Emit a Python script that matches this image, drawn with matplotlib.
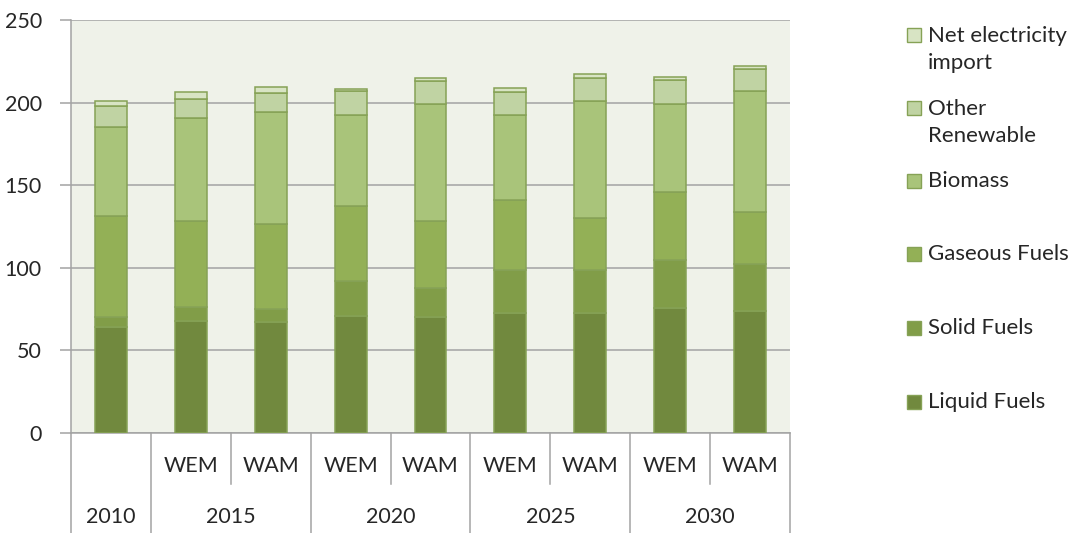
import matplotlib
matplotlib.use("Agg")
import matplotlib.pyplot as plt
import matplotlib.patches as mpatches
from matplotlib.transforms import blended_transform_factory
import numpy as np

plt.rcParams['font.family'] = ['Lato', 'DejaVu Sans']

# Scenario columns: base year, then WEM / WAM projections
scenarios = ["", "WEM", "WAM", "WEM", "WAM", "WEM", "WAM", "WEM", "WAM"]
years = ["2010", "2015", "2020", "2025", "2030"]

# Primary energy by fuel (stacked bottom to top)
liquid_fuels = [64.3, 68.0, 67.2, 70.8, 70.4, 72.4, 72.4, 75.5, 74.0]
solid_fuels = [5.7, 8.1, 7.7, 21.2, 17.6, 26.1, 26.1, 29.0, 28.3]
gaseous_fuels = [61.4, 52.2, 51.4, 45.4, 40.3, 42.5, 31.5, 41.2, 31.3]
biomass = [53.8, 62.2, 67.8, 55.1, 70.9, 51.5, 71.0, 53.6, 73.2]
other_renewable = [12.5, 11.7, 11.9, 14.5, 14.1, 14.1, 14.1, 14.2, 13.8]
net_electricity_import = [3.3, 4.0, 3.3, 1.2, 1.8, 2.4, 2.2, 2.2, 1.8]

series = [liquid_fuels, solid_fuels, gaseous_fuels, biomass,
          other_renewable, net_electricity_import]
labels = ["Liquid Fuels", "Solid Fuels", "Gaseous Fuels", "Biomass",
          "Other\nRenewable", "Net electricity\nimport"]
colors = ["#71893e", "#819d48", "#93b056", "#a9c47a", "#c0d3a3", "#d8e4c4"]
edge = "#86a256"

W, H = 1081, 533
fig = plt.figure(figsize=(W / 100, H / 100), dpi=100)
ax = fig.add_axes([71 / W, (H - 433) / H, (790 - 71) / W, 413 / H])
ax.set_facecolor("#eff2e9")

x = np.arange(len(scenarios))
bottom = np.zeros(len(scenarios))
for vals, col in zip(series, colors):
    ax.bar(x, vals, width=0.4, bottom=bottom, color=col, edgecolor=edge,
           linewidth=1.1, zorder=3)
    bottom += np.array(vals)

ax.set_xlim(-0.5, len(scenarios) - 0.5)
ax.set_ylim(0, 250)
ax.set_yticks(np.arange(0, 251, 50))
ax.yaxis.grid(True, color="#a3a3a3", linewidth=1.1, zorder=0)
ax.set_axisbelow(True)
for s in ["top", "right"]:
    ax.spines[s].set_visible(False)
ax.spines["left"].set_color("#a3a3a3")
ax.spines["bottom"].set_color("#a3a3a3")
ax.spines["left"].set_linewidth(1.1)
ax.spines["bottom"].set_linewidth(1.1)
ax.tick_params(axis="y", length=8, width=1.1, color="#a3a3a3",
               labelsize=15.5, labelcolor="#262626", pad=13)
ax.set_xticks([])

# Two-level category axis under the plot
tr = blended_transform_factory(ax.transData, fig.transFigure)
def fy(py):
    return 1 - py / H

line_kw = dict(color="#a3a3a3", linewidth=1.1, transform=tr, clip_on=False)
ax.plot([-0.5, -0.5], [fy(433), fy(533)], **line_kw)
for b in np.arange(0.5, len(scenarios), 1.0):
    full = (b - 0.5) % 2 == 0  # year boundary
    ax.plot([b, b], [fy(433), fy(533 if full else 484)], **line_kw)

for xi, s in zip(x, scenarios):
    if s:
        ax.text(xi, fy(466), s, transform=tr, ha="center", va="center",
                fontsize=15.5, color="#262626")
year_pos = [0, 1.5, 3.5, 5.5, 7.5]
for xp, yr in zip(year_pos, years):
    ax.text(xp, fy(517), yr, transform=tr, ha="center", va="center",
            fontsize=15.5, color="#262626")

# Legend on the right, top entry first
legend_y = [49.5, 122.5, 181, 254, 328, 402]
order = list(range(len(series)))[::-1]
for yy, idx in zip(legend_y, order):
    lab = labels[idx]
    nlines = lab.count("\n") + 1
    first_y = yy - (nlines - 1) * 15
    fig.patches.append(mpatches.Rectangle(
        (907 / W, fy(first_y + 7)), 14 / W, 14 / H, transform=fig.transFigure,
        facecolor=colors[idx], edgecolor=edge, linewidth=1.0))
    fig.text(928 / W, fy(yy), lab, ha="left", va="center", fontsize=16,
             color="#262626", linespacing=1.4)

fig.savefig("out.png", dpi=100)
